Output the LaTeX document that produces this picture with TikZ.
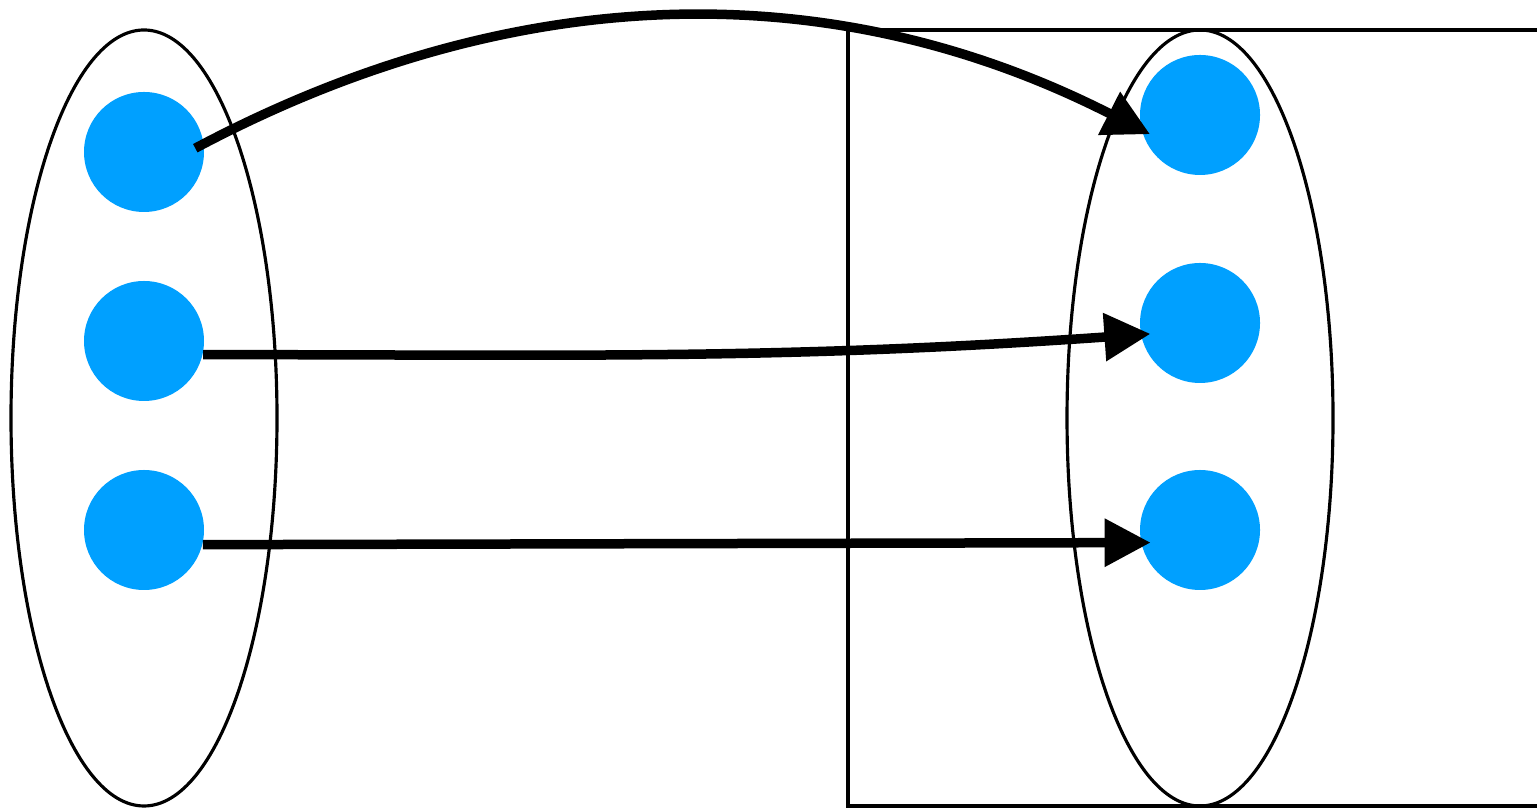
\documentclass[tikz,border=0pt]{standalone}
\usepackage{tikz}
\usetikzlibrary{arrows.meta, shapes.geometric}
\definecolor{dotblue}{RGB}{0,160,255}

\begin{document}
\begin{tikzpicture}[
  bag/.style={ellipse, draw, line width=0.9pt, minimum width=2.66cm, minimum height=7.76cm, inner sep=0pt},
  dot/.style={circle, fill=dotblue, minimum size=1.2cm, inner sep=0pt},
  map/.style={line width=0.095cm, -{Triangle[length=4.6mm, width=4.6mm]}, shorten >=-1mm}
]
  \useasboundingbox (0,0) rectangle (15.37,8.09);

  \draw[line width=0.9pt] (8.48,0.03) rectangle (15.6,7.79);

  \node[bag] (A) at (1.44,3.91) {};
  \node[bag] (B) at (12.00,3.91) {};

  \node[dot] (a1) at (1.44,6.57) {};
  \node[dot] (a2) at (1.44,4.68) {};
  \node[dot] (a3) at (1.44,2.79) {};
  \node[dot] (b1) at (12.00,6.94) {};
  \node[dot] (b2) at (12.00,4.86) {};
  \node[dot] (b3) at (12.00,2.79) {};

  \draw[map, shorten <=-1mm] (a1.8) to[out=28, in=153, looseness=0.95] (b1.194);
  \draw[map] (a2.-13) to[out=0, in=184] (b2.191);
  \draw[map] (a3.-14) -- (b3.192);
\end{tikzpicture}
\end{document}
